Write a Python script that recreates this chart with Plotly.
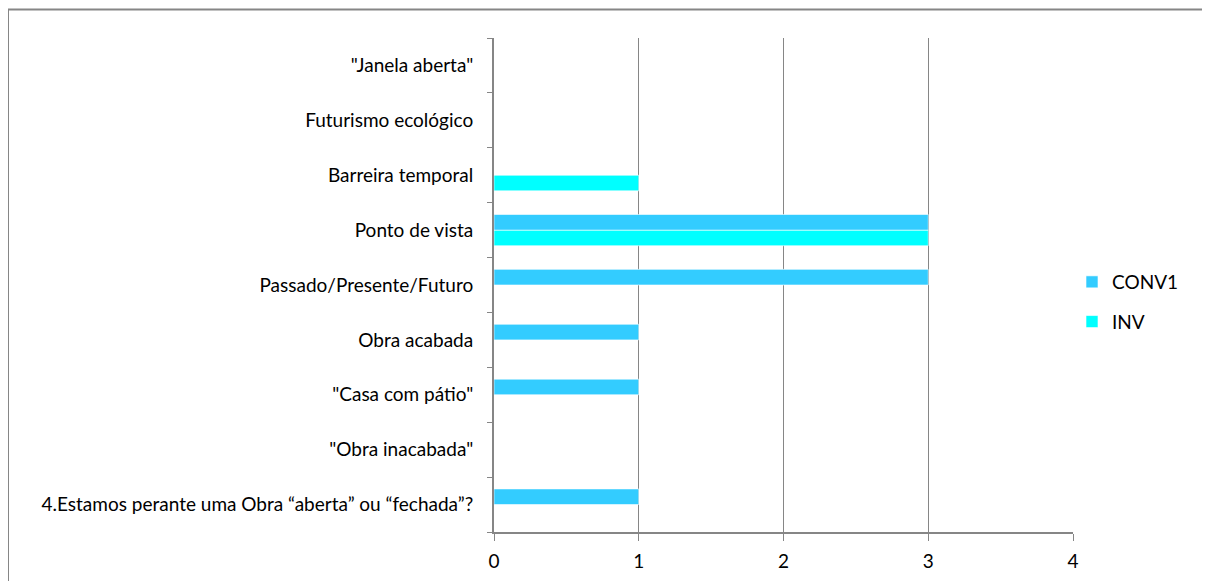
import plotly.graph_objects as go

categories = [
    "4.Estamos perante uma Obra “aberta” ou “fechada”?",
    "\"Obra inacabada\"",
    "\"Casa com pátio\"",
    "Obra acabada",
    "Passado/Presente/Futuro",
    "Ponto de vista",
    "Barreira temporal",
    "Futurismo ecológico",
    "\"Janela aberta\"",
]
conv1 = [1, 0, 1, 1, 3, 3, 0, 0, 0]
inv = [0, 0, 0, 0, 0, 3, 1, 0, 0]
x_ticks = [0, 1, 2, 3, 4]

FONT = "Lato, Carlito, Calibri, sans-serif"
GRAY = "#868686"

fig = go.Figure()
fig.add_trace(go.Bar(
    y=categories, x=inv, name="INV", orientation="h",
    marker=dict(color="#00FFFF", line=dict(color="white", width=0.6)),
    legendgroup="b", legendrank=2,
))
fig.add_trace(go.Bar(
    y=categories, x=conv1, name="CONV1", orientation="h",
    marker=dict(color="#33CCFF", line=dict(color="white", width=0.6)),
    legendgroup="a", legendrank=1,
))

# page body adds an 8px offset; compensate
OFF = 8
W, H = 1210, 581
PL, PR, PT, PB = 494, 1073, 38, 532  # plot area in screen pixels
L, R, T, B = PL - OFF, W - PR + OFF, PT - OFF, H - PB + OFF
pw = W - L - R
ph = H - T - B

fig.update_layout(
    width=W, height=H,
    margin=dict(l=L, r=R, t=T, b=B, autoexpand=False),
    barmode="group",
    bargap=0.43,
    bargroupgap=0,
    plot_bgcolor="white",
    paper_bgcolor="white",
    font=dict(family=FONT, size=19, color="#000000"),
    showlegend=True,
    legend=dict(
        x=(1072 - PL) / pw, y=1 - (302 - PT) / ph, xanchor="left", yanchor="middle",
        traceorder="grouped", tracegroupgap=12,
        font=dict(family=FONT, size=19),
        itemwidth=30,
        bgcolor="rgba(0,0,0,0)",
    ),
    xaxis=dict(
        range=[0, 4], tickvals=x_ticks, ticktext=[str(v) for v in x_ticks],
        showgrid=True, gridcolor=GRAY, gridwidth=1.3,
        showline=True, linecolor=GRAY, linewidth=2,
        ticks="outside", ticklen=7, tickcolor=GRAY, tickwidth=1.3,
        ticklabelstandoff=4,
        zeroline=False, fixedrange=True, automargin=False,
        tickfont=dict(family=FONT, size=19),
    ),
    yaxis=dict(
        categoryorder="array", categoryarray=categories,
        showline=True, linecolor=GRAY, linewidth=2,
        ticks="outside", ticklen=5, tickcolor=GRAY, tickwidth=1.3,
        tickson="boundaries", showgrid=False,
        ticklabelstandoff=15, automargin=False,
        tickfont=dict(family=FONT, size=19),
        fixedrange=True,
    ),
    shapes=[dict(
        type="rect", xref="paper", yref="paper",
        x0=(8 - PL) / pw, x1=(W + 30 - PL) / pw,
        y0=-(H - PB + 30) / ph, y1=1 + (PT - 9.5) / ph,
        line=dict(color=GRAY, width=2), fillcolor="rgba(0,0,0,0)",
        layer="below",
    )],
)

fig.write_html("out.html")
